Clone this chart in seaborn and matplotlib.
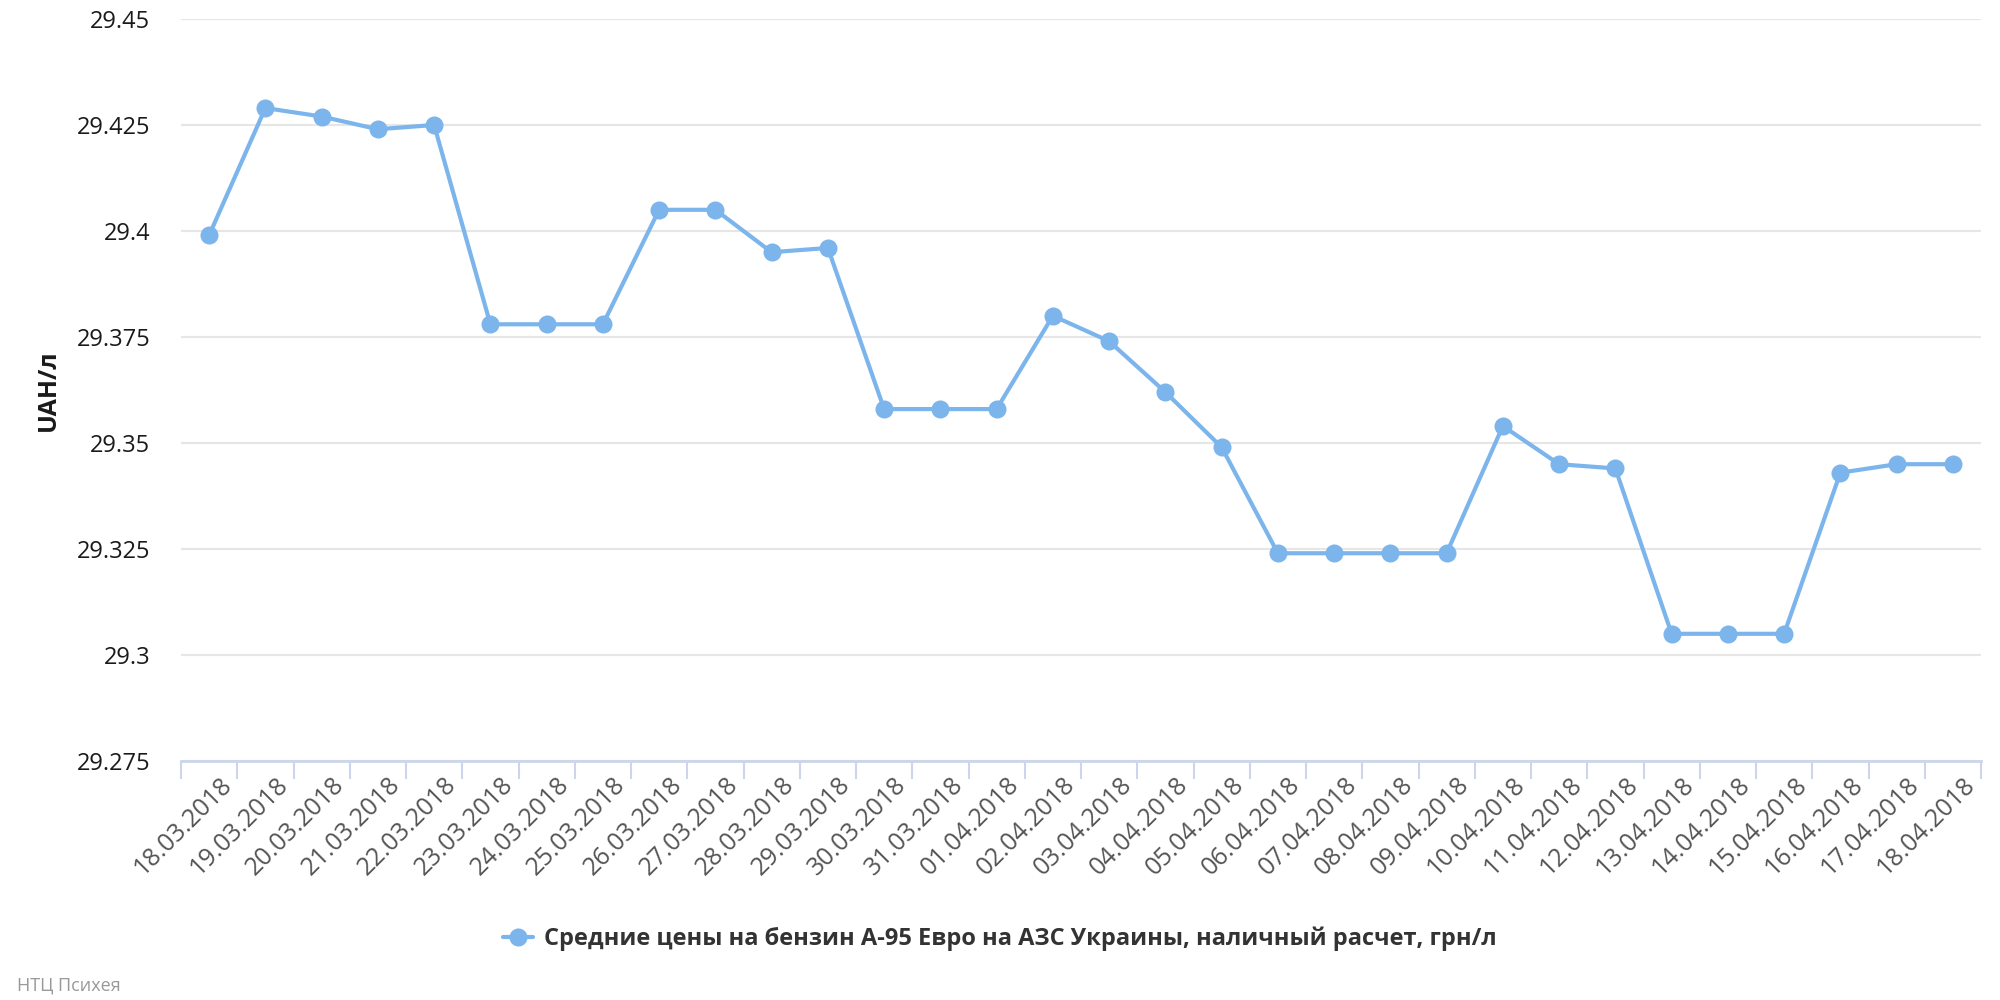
import seaborn as sns
import pandas as pd
import numpy as np
import matplotlib.pyplot as plt
import matplotlib.transforms as mtransforms
from matplotlib.ticker import FixedLocator, FuncFormatter

# Dates (categories) and average price values
dates = ['18.03.2018', '19.03.2018', '20.03.2018', '21.03.2018', '22.03.2018',
         '23.03.2018', '24.03.2018', '25.03.2018', '26.03.2018', '27.03.2018',
         '28.03.2018', '29.03.2018', '30.03.2018', '31.03.2018', '01.04.2018',
         '02.04.2018', '03.04.2018', '04.04.2018', '05.04.2018', '06.04.2018',
         '07.04.2018', '08.04.2018', '09.04.2018', '10.04.2018', '11.04.2018',
         '12.04.2018', '13.04.2018', '14.04.2018', '15.04.2018', '16.04.2018',
         '17.04.2018', '18.04.2018']
prices = [29.399, 29.429, 29.427, 29.424, 29.425,
          29.378, 29.378, 29.378, 29.405, 29.405,
          29.395, 29.396, 29.358, 29.358, 29.358,
          29.380, 29.374, 29.362, 29.349, 29.324,
          29.324, 29.324, 29.324, 29.354, 29.345,
          29.344, 29.305, 29.305, 29.305, 29.343,
          29.345, 29.345]
y_ticks = [29.275, 29.3, 29.325, 29.35, 29.375, 29.4, 29.425, 29.45]

series_name = 'Средние цены на бензин А-95 Евро на АЗС Украины, наличный расчет, грн/л'

sns.set_style('white')
plt.rcParams['font.family'] = ['Open Sans', 'DejaVu Sans']

df = pd.DataFrame({'idx': np.arange(len(dates)), 'price': prices})

fig = plt.figure(figsize=(20, 10), dpi=100)
ax = fig.add_axes([0.0905, 0.239, 0.9, 0.742])

line_color = '#7cb5ec'
sns.lineplot(data=df, x='idx', y='price', ax=ax, color=line_color, linewidth=3,
             marker='o', markersize=13, markeredgewidth=0, label=series_name, zorder=3)

# Axes ranges and grid
ax.set_xlim(-0.5, len(dates) - 0.5)
ax.set_ylim(y_ticks[0], y_ticks[-1])
ax.set_yticks(y_ticks)
ax.yaxis.set_major_formatter(FuncFormatter(lambda v, p: f'{v:g}'))
ax.grid(axis='y', color='#e6e6e6', linewidth=1.5, zorder=0)
ax.tick_params(axis='y', length=0, pad=22, labelsize=17, labelcolor='#1a1a1a')

# Tick marks on category boundaries, labels on category centres
ax.xaxis.set_major_locator(FixedLocator(np.arange(-0.5, len(dates), 1.0)))
ax.xaxis.set_major_formatter(FuncFormatter(lambda v, p: ''))
ax.xaxis.set_minor_locator(FixedLocator(np.arange(len(dates))))
ax.set_xticklabels(dates, minor=True)
ax.tick_params(axis='x', which='major', bottom=True, length=13, width=1.5,
               color='#ccd6eb', direction='out')
ax.tick_params(axis='x', which='minor', bottom=True, length=0, pad=8,
               labelsize=18, labelcolor='#555555')
offset = mtransforms.ScaledTranslation(0.1, 0, fig.dpi_scale_trans)
for lbl in ax.get_xticklabels(minor=True):
    lbl.set_rotation(45)
    lbl.set_ha('right')
    lbl.set_va('top')
    lbl.set_rotation_mode('anchor')
    lbl.set_transform(lbl.get_transform() + offset)

for s in ['top', 'right', 'left']:
    ax.spines[s].set_visible(False)
ax.spines['bottom'].set_color('#ccd6eb')
ax.spines['bottom'].set_linewidth(2)
ax.spines['bottom'].set_zorder(4)

ax.set_xlabel('')
ax.set_ylabel('UAH/л', fontsize=18, fontweight='bold', color='#1a1a1a')
ax.yaxis.set_label_coords(-0.067, 0.5)

# Legend under the chart
leg = ax.legend(loc='center', bbox_to_anchor=(0.5, 0.061), bbox_transform=fig.transFigure,
                frameon=False, fontsize=17, handlelength=1.25, handletextpad=0.5)
for t in leg.get_texts():
    t.set_color('#333333')
    t.set_fontweight('bold')

fig.text(0.0085, 0.015, 'НТЦ Психея', fontsize=13, color='#999999', ha='left', va='center')

fig.savefig('out.png', dpi=100)
